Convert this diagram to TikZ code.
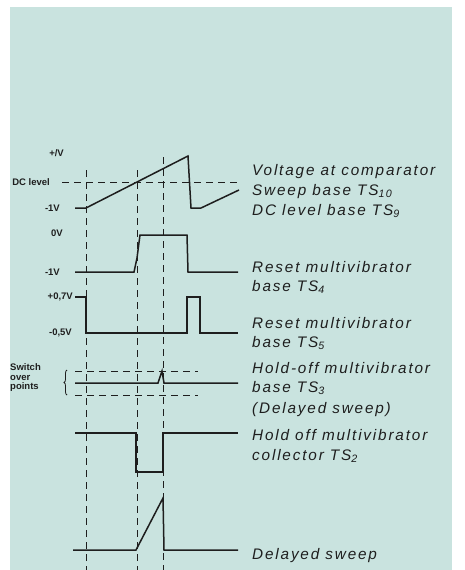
\documentclass[tikz,border=0pt]{standalone}
\usepackage{fontspec}
\setmainfont{Liberation Sans}
\newfontfamily\lblfont[LetterSpace=12]{Liberation Sans}
\usetikzlibrary{decorations.pathreplacing}
\definecolor{scopeBg}{RGB}{201,227,223}
\definecolor{scopeInk}{RGB}{30,30,30}

\begin{document}
\begin{tikzpicture}[x=1pt, y=-1pt,
  wave/.style={draw=scopeInk, line width=1.5pt, line join=miter},
  guide/.style={draw=scopeInk, line width=1pt, dash pattern=on 7pt off 5pt},
  lvl/.style={font=\bfseries\fontsize{9.5}{9.5}\selectfont, text=scopeInk, anchor=east, inner sep=0pt},
  lbl/.style={font=\lblfont\itshape\fontsize{15.3}{19}\selectfont, text=scopeInk, anchor=base west, inner sep=0pt}
]
\useasboundingbox (0,0) rectangle (464,570);
\fill[scopeBg] (10,7) rectangle (452,570);

% time markers
\foreach \gx/\gy in {86/170, 137/170, 163/157}
  \draw[guide] (\gx,\gy) -- (\gx,570);
\draw[guide] (62,182) -- (240,182);

% waveforms
\draw[wave] (75,208) -- (86,208) -- (188,156) -- (191,208) -- (201,208) -- (239,190);
\draw[wave] (75,272) -- (134,272) -- (137,258) -- (140,235) -- (187,235) -- (188,272) -- (238,272);
\draw[wave] (75,297) -- (86,297) -- (86,333) -- (187,333) -- (187,297) -- (200,297) -- (200,333) -- (238,333);
\draw[guide] (75,371) -- (198,371);
\draw[wave] (75,383) -- (158,383) -- (162,371) -- (164,383) -- (238,383);
\draw[guide] (75,395) -- (198,395);
\draw[wave] (75,433) -- (136,433) -- (136,472) -- (163,472) -- (163,433) -- (238,433);
\draw[wave] (73,550) -- (136,550) -- (163,498) -- (164,550) -- (238,550);

% level labels
\node[lvl] (plus7) at (64,153) {+/V};
\node[lvl] (dclvl) at (50,182) {DC level};
\node[lvl] (minus1a) at (60,208) {-1V};
\node[lvl] (zerov) at (63,233) {0V};
\node[lvl] (minus1b) at (60,272) {-1V};
\node[lvl] (plus07) at (73,297) {+0,7V};
\node[lvl] (minus05) at (72,333) {-0,5V};
\node[lvl, anchor=west, align=left, font=\bfseries\fontsize{9.5}{9.5}\selectfont] (switch) at (10,378) {Switch\\over\\points};
\draw[scopeInk, line width=0.8pt, decorate, decoration={brace, amplitude=3pt}] (67,395) -- (67,370);

% trace names
\node[lbl] (cmp) at (252,175) {Voltage at comparator};
\node[lbl] (swp) at (252,195) {Sweep base TS\textsubscript{10}};
\node[lbl] (dcb) at (252,215) {DC level base TS\textsubscript{9}};
\node[lbl] (rstA) at (252,272) {Reset multivibrator};
\node[lbl] (rstAb) at (252,291) {base TS\textsubscript{4}};
\node[lbl] (rstB) at (252,328) {Reset multivibrator};
\node[lbl] (rstBb) at (252,347) {base TS\textsubscript{5}};
\node[lbl] (hldA) at (252,373) {Hold-off multivibrator};
\node[lbl] (hldAb) at (252,392) {base TS\textsubscript{3}};
\node[lbl] (hldAc) at (252,413) {(Delayed sweep)};
\node[lbl] (hldB) at (252,440) {Hold off multivibrator};
\node[lbl] (hldBb) at (252,460) {collector TS\textsubscript{2}};
\node[lbl] (dly) at (252,559) {Delayed sweep};
\end{tikzpicture}
\end{document}
